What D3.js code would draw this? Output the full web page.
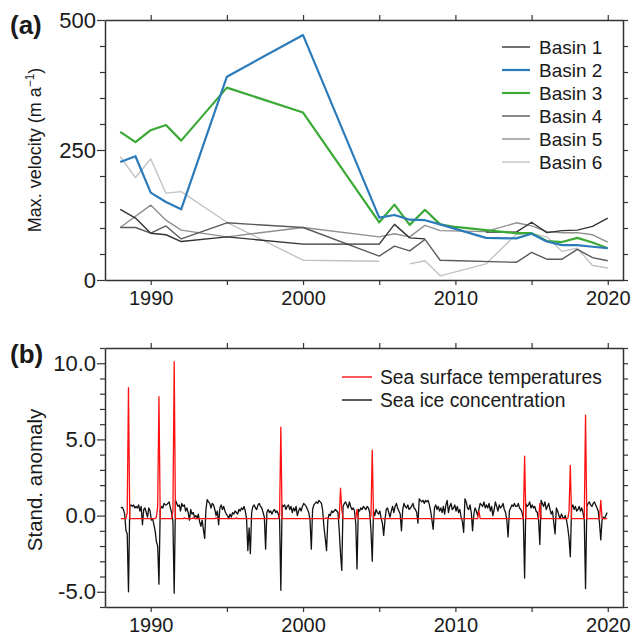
<!DOCTYPE html>
<html>
<head>
<meta charset="utf-8">
<script src="https://cdn.jsdelivr.net/npm/d3@7"></script>
<style>
  body { margin: 0; background: #fff; }
  svg text { font-family: "Liberation Sans", Arial, sans-serif; fill: #1a1a1a; }
</style>
</head>
<body>
<div id="chart"></div>
<script>
// ---- panel (a): max. velocity per basin (m a-1), null = gap
const basin1Years = [1988,1989,1990,1991,1992,1995,2000,2005,2006,2007,2008,2010,2012,2013,2014,2015,2016,2017,2018,2019,2020];
const basin1Vel   = [136, 119, 90,  87,  74,  83,  69,  69,  107, 81,  79,  null,92,  92,  92,  111, 91,  95,  96,  103, 119];
const basin2Years = [1988,1989,1990,1991,1992,1995,2000,2005,2006,2007,2008,2009,2012,2014,2015,2016,2017,2018,2019,2020];
const basin2Vel   = [227, 238, 168, 150, 136, 391, 471, 120, 125, 116, 115, 107, 81,  80,  89,  74,  67,  67,  64,  61];
const basin3Years = [1988,1989,1990,1991,1992,1995,2000,2005,2006,2007,2008,2009,2010,2012,2014,2015,2016,2017,2018,2019,2020];
const basin3Vel   = [285, 265, 288, 298, 268, 370, 322, 111, 145, 106, 135, 107, 102, 96,  90,  90,  75,  73,  81,  72,  61];
const basin4Years = [1988,1989,1990,1991,1992,1995,2000,2005,2006,2007,2008,2009,2014,2015,2016,2017,2018,2019,2020];
const basin4Vel   = [101, 101, 90,  104, 79,  110, 101, 46,  65,  56,  78,  38,  34,  53,  40,  40,  59,  43,  37];
const basin5Years = [1988,1990,1991,1992,1995,2000,2005,2006,2007,2008,2009,2012,2014,2015,2016,2017,2018,2019,2020];
const basin5Vel   = [101, 144, 115, 96,  83,  101, 83,  89,  83,  105, 95,  93,  110, 104, 93,  91,  91,  87,  73];
const basin6Years = [1988,1989,1990,1991,1992,1995,2000,2005,2006,2007,2008,2009,2012,2014,2015,2016,2017,2018,2019,2020];
const basin6Vel   = [237, 197, 233, 167, 170, 111, 38,  36,  null,31,  37,  8,   31,  88,  89,  83,  55,  61,  28,  23];
const basinNames  = ["Basin 1","Basin 2","Basin 3","Basin 4","Basin 5","Basin 6"];
const velTicks    = [0, 250, 500];

// ---- panel (b): monthly standardised anomalies, one row per year from 1988
const anomalyStartYear = 1988;
const sstAnomaly = [
  [-0.2,-0.2,-0.2,-0.2,-0.2,0.2,8.4,-0.2,-0.2,-0.2,-0.2,-0.2],
  [-0.2,-0.2,-0.2,-0.2,-0.2,-0.2,-0.2,-0.2,-0.2,-0.2,-0.2,-0.2],
  [-0.2,-0.2,-0.2,-0.2,-0.1,0.6,7.8,-0.2,-0.2,-0.2,-0.2,-0.2],
  [-0.2,-0.2,-0.2,-0.2,-0.2,0.3,10.1,-0.2,-0.2,-0.2,-0.2,-0.2],
  [-0.2,-0.2,-0.15,-0.2,-0.2,-0.2,-0.2,-0.2,-0.2,-0.15,-0.2,-0.2],
  [-0.2,-0.2,-0.2,-0.2,-0.2,-0.2,-0.2,-0.2,-0.2,-0.2,-0.2,-0.2],
  [-0.2,-0.2,-0.2,-0.15,-0.2,-0.2,-0.2,-0.2,-0.2,-0.2,-0.2,-0.2],
  [-0.2,-0.2,-0.2,-0.2,-0.2,-0.2,-0.2,-0.15,-0.2,-0.2,-0.2,-0.2],
  [-0.2,-0.2,-0.2,-0.2,-0.2,-0.2,-0.2,-0.2,-0.2,-0.2,-0.2,-0.2],
  [-0.2,-0.2,-0.2,-0.2,-0.2,-0.2,-0.2,-0.2,-0.2,-0.2,-0.2,-0.2],
  [-0.2,-0.2,-0.2,-0.2,-0.2,0.0,5.8,-0.2,-0.2,-0.2,-0.2,-0.2],
  [-0.2,-0.2,-0.2,-0.2,-0.2,-0.2,-0.2,-0.2,-0.2,-0.2,-0.2,-0.2],
  [-0.2,-0.2,-0.2,-0.2,-0.2,-0.2,-0.2,-0.2,-0.2,-0.2,-0.2,-0.2],
  [-0.2,-0.2,-0.2,-0.2,-0.2,-0.2,-0.15,-0.2,-0.2,-0.2,-0.2,-0.2],
  [-0.2,-0.2,-0.2,-0.2,-0.2,1.8,0.4,-0.2,-0.2,-0.2,-0.2,-0.2],
  [-0.2,-0.2,-0.2,-0.2,-0.2,-0.2,0.4,-0.2,-0.2,-0.2,-0.2,-0.2],
  [-0.2,-0.2,-0.2,-0.2,-0.2,0.0,4.3,-0.2,-0.2,-0.2,-0.2,-0.2],
  [-0.2,-0.2,-0.2,-0.2,-0.2,-0.2,-0.2,-0.2,-0.2,-0.2,-0.2,-0.2],
  [-0.2,-0.2,-0.2,-0.2,-0.2,-0.2,-0.2,-0.2,-0.2,-0.2,-0.2,-0.2],
  [-0.2,-0.2,-0.2,-0.2,-0.2,-0.2,-0.2,-0.2,-0.2,-0.2,-0.2,-0.2],
  [-0.2,-0.2,-0.2,-0.2,-0.2,-0.2,-0.2,-0.2,-0.2,-0.2,-0.2,-0.2],
  [-0.2,-0.2,-0.2,-0.2,-0.2,-0.2,-0.2,-0.2,-0.2,-0.2,-0.2,-0.2],
  [-0.2,-0.2,-0.2,-0.2,-0.2,-0.2,-0.2,-0.2,-0.2,-0.2,-0.2,-0.2],
  [-0.2,-0.2,-0.2,-0.2,-0.2,-0.2,0.3,-0.2,-0.2,-0.2,-0.2,-0.2],
  [-0.2,-0.2,-0.2,-0.2,-0.2,-0.2,-0.2,-0.2,-0.2,-0.2,-0.2,-0.2],
  [-0.2,-0.2,-0.2,-0.2,-0.2,-0.2,-0.2,-0.2,-0.2,-0.2,-0.2,-0.2],
  [-0.2,-0.2,-0.2,-0.2,-0.2,-0.2,3.9,-0.2,-0.2,-0.2,-0.2,-0.2],
  [-0.2,-0.2,-0.2,-0.2,-0.2,-0.2,0.8,-0.2,-0.2,-0.2,-0.2,-0.2],
  [-0.2,-0.2,-0.2,-0.2,-0.2,-0.2,-0.2,-0.2,-0.2,-0.2,-0.2,-0.2],
  [-0.2,-0.2,-0.2,-0.2,-0.2,0.3,3.3,-0.2,-0.2,-0.2,-0.2,-0.2],
  [-0.2,-0.2,-0.2,-0.2,-0.2,-0.2,6.6,-0.2,-0.2,-0.2,-0.2,-0.2],
  [-0.2,-0.2,-0.2,-0.2,-0.2,-0.2,1.0,-0.2,-0.2,-0.2,-0.2,-0.2]
];
const sicAnomaly = [
  [0.5,0.55,0.4,0.1,-1.0,-1.2,-5.0,0.6,0.7,0.6,0.7,0.5],
  [0.6,0.5,0.7,0.3,0.6,-0.6,0.4,0.5,0.2,-0.1,0.5,0.3],
  [-0.3,-0.2,-0.6,-1.0,-1.7,-2.0,-4.5,0.4,0.6,0.5,0.8,0.7],
  [0.7,0.8,0.9,0.5,0.2,-0.4,-5.1,1.0,0.8,0.6,0.7,0.3],
  [0.8,0.6,0.7,0.3,0.5,0.2,-0.3,0.4,0.1,0.2,-0.1,0.0],
  [-0.2,0.1,-0.4,-0.7,-0.3,-0.9,-1.5,0.4,1.05,0.9,0.8,0.5],
  [0.8,0.7,0.4,0.0,0.3,-0.6,0.5,0.7,0.4,0.6,0.3,0.1],
  [0.0,-0.2,0.1,-0.1,0.2,0.1,0.3,0.2,0.1,0.4,0.3,0.5],
  [0.4,0.6,0.3,-0.2,-2.3,-0.8,-2.5,0.2,0.6,0.7,0.5,0.4],
  [0.7,0.8,0.6,0.5,0.2,-0.1,-2.2,0.2,0.4,0.2,0.3,0.1],
  [0.3,0.4,0.2,0.3,0.1,-0.2,-4.9,0.7,0.6,0.7,0.4,0.6],
  [0.7,0.4,0.6,0.2,0.5,0.3,0.6,0.0,0.3,0.5,0.3,0.6],
  [0.8,0.7,0.6,0.4,0.2,-0.3,-2.2,0.4,0.7,0.8,0.9,0.8],
  [1.0,0.9,0.8,0.3,-0.8,-1.5,-2.3,-0.3,0.1,0.0,0.3,0.2],
  [0.3,0.4,0.3,0.2,-1.0,-2.5,-3.6,0.6,0.8,0.9,0.7,0.5],
  [0.9,0.6,0.4,0.5,0.3,-0.5,-3.5,0.4,0.3,0.5,0.4,0.6],
  [0.5,0.4,0.6,0.5,0.2,-1.0,-3.0,0.3,0.0,0.4,0.2,0.1],
  [0.3,-0.2,-0.5,-1.3,-0.3,0.4,0.5,0.2,-0.1,0.3,0.6,0.2],
  [0.6,0.8,0.5,0.3,0.1,-1.0,0.4,0.8,0.6,0.5,0.7,0.4],
  [0.5,0.6,0.8,0.5,0.4,0.2,-0.5,1.1,1.0,0.9,1.0,0.8],
  [1.0,0.9,1.0,0.7,0.3,-0.3,-0.9,0.5,0.7,0.4,0.6,0.3],
  [0.5,0.2,0.6,0.1,0.7,1.0,0.2,0.6,0.8,0.4,0.5,0.7],
  [0.3,0.6,0.2,0.4,-0.1,-0.4,-1.1,1.1,0.9,0.5,0.4,0.7],
  [0.2,-1.0,0.1,0.5,0.3,0.0,0.4,0.8,0.7,0.6,0.9,0.5],
  [0.7,0.5,0.8,0.3,0.6,0.0,0.4,0.9,0.6,0.3,0.7,0.5],
  [0.6,0.8,0.4,0.2,-0.3,-1.4,0.3,0.5,0.7,0.6,0.8,0.6],
  [0.6,0.8,0.5,0.4,0.2,-0.2,-4.1,0.8,0.6,0.7,0.9,0.5],
  [0.7,0.5,0.6,0.3,0.2,-0.3,-1.9,1.0,0.8,0.6,0.9,0.4],
  [0.6,0.8,0.4,0.1,0.3,-0.5,-1.2,0.5,0.3,0.0,-0.2,0.1],
  [-0.1,-0.2,0.0,-0.3,-0.8,-1.5,-2.7,0.5,0.7,0.4,0.6,0.3],
  [0.4,0.6,0.3,0.5,0.2,-0.3,-4.8,0.6,0.8,0.9,0.7,0.6],
  [0.8,0.9,0.7,0.5,0.3,-0.5,-1.6,-0.3,-0.1,-0.2,0.0,0.2]
];
const anomalyNames = ["Sea surface temperatures", "Sea ice concentration"];
const anomalyTicks = [-5, 0, 5, 10];
const yearTicks = [1990, 2000, 2010, 2020];

const width = 633, height = 635;
const left = 105, right = 623;
const frame = "#333333";

const svg = d3.select("#chart").append("svg")
  .attr("width", width).attr("height", height);

const x = d3.scaleLinear().domain([1987, 2021]).range([left, right]);
const ya = d3.scaleLinear().domain([0, 500]).range([280, 20]);
const yb = d3.scaleLinear().domain([-6, 11]).range([607, 348]);

function styleAxis(g, size) {
  g.selectAll("path.domain").attr("stroke", frame).attr("stroke-width", 1.5);
  g.selectAll(".tick line").attr("stroke", frame).attr("stroke-width", 1.2);
  g.selectAll(".tick text").style("font-size", size + "px").attr("fill", "#1a1a1a");
}

function drawFrame(y, minorStep, labelled, fmt) {
  const [lo, hi] = y.domain();
  const [bottom, top] = y.range();
  const xt = d3.range(1990, 2021, 5);
  const lab = d => yearTicks.includes(d) ? d : "";

  svg.append("g").attr("transform", `translate(0,${bottom})`)
    .call(d3.axisBottom(x).tickValues(xt).tickSizeInner(5).tickSizeOuter(0).tickPadding(6).tickFormat(lab))
    .call(styleAxis, 20);
  svg.append("g").attr("transform", `translate(0,${top})`)
    .call(d3.axisTop(x).tickValues(xt).tickSizeInner(5).tickSizeOuter(0).tickFormat(""))
    .call(styleAxis, 20);

  const yt = d3.range(Math.ceil(lo / minorStep) * minorStep, hi + 1e-9, minorStep);
  svg.append("g").attr("transform", `translate(${left},0)`)
    .call(d3.axisLeft(y).tickValues(yt).tickSizeInner(5).tickSizeOuter(0).tickPadding(4)
      .tickFormat(d => labelled.includes(d) ? fmt(d) : ""))
    .call(styleAxis, 22)
    .call(g => g.selectAll(".tick").filter(d => labelled.includes(d)).select("line").attr("x2", -8));
  svg.append("g").attr("transform", `translate(${right},0)`)
    .call(d3.axisRight(y).tickValues(yt).tickSizeInner(5).tickSizeOuter(0).tickFormat(""))
    .call(styleAxis, 20);
}

// ---------- panel (a)
drawFrame(ya, 50, velTicks, d => d);

const basinSeries = [
  { years: basin1Years, vals: basin1Vel, color: "#333333", w: 1.4 },
  { years: basin2Years, vals: basin2Vel, color: "#2b7bba", w: 2.2 },
  { years: basin3Years, vals: basin3Vel, color: "#3aa935", w: 2.2 },
  { years: basin4Years, vals: basin4Vel, color: "#5a5a5a", w: 1.4 },
  { years: basin5Years, vals: basin5Vel, color: "#8f8f8f", w: 1.4 },
  { years: basin6Years, vals: basin6Vel, color: "#c2c2c2", w: 1.4 }
];

const lineA = d3.line()
  .defined(d => d[1] !== null)
  .x(d => x(d[0])).y(d => ya(d[1]));

const drawOrder = [5, 4, 3, 0, 2, 1];
drawOrder.forEach(i => {
  const s = basinSeries[i];
  svg.append("path")
    .datum(s.years.map((yr, k) => [yr, s.vals[k]]))
    .attr("d", lineA)
    .attr("fill", "none")
    .attr("stroke", s.color)
    .attr("stroke-width", s.w)
    .attr("stroke-linejoin", "round");
});

const legA = svg.append("g").attr("transform", "translate(502,47)");
basinNames.forEach((name, i) => {
  const row = legA.append("g").attr("transform", `translate(0,${i * 23})`);
  row.append("line").attr("x1", 0).attr("x2", 28)
    .attr("stroke", basinSeries[i].color).attr("stroke-width", basinSeries[i].w);
  row.append("text").attr("x", 37).attr("dy", "0.35em")
    .style("font-size", "19px").text(name);
});

svg.append("text").attr("x", 10).attr("y", 34)
  .style("font-size", "26px").style("font-weight", "bold").text("(a)");

const titleA = svg.append("text")
  .attr("transform", "translate(41,150) rotate(-90)")
  .attr("text-anchor", "middle")
  .style("font-size", "18px");
titleA.append("tspan").text("Max. velocity (m a");
titleA.append("tspan").attr("dy", -7).style("font-size", "12px").text("\u22121");
titleA.append("tspan").attr("dy", 7).text(")");

// ---------- panel (b)
drawFrame(yb, 1, anomalyTicks, d => d3.format(".1f")(d).replace("\u2212", "-"));

function monthly(rows) {
  const out = [];
  rows.forEach((row, yi) => row.forEach((v, m) => out.push([anomalyStartYear + yi + (m + 0.5) / 12, v])));
  return out;
}

const lineB = d3.line().x(d => x(d[0])).y(d => yb(d[1]));

svg.append("path").datum(monthly(sicAnomaly)).attr("d", lineB)
  .attr("fill", "none").attr("stroke", "#111111").attr("stroke-width", 1.3).attr("stroke-linejoin", "round");
svg.append("path").datum(monthly(sstAnomaly)).attr("d", lineB)
  .attr("fill", "none").attr("stroke", "#ff1111").attr("stroke-width", 1.3).attr("stroke-linejoin", "round");

const legB = svg.append("g").attr("transform", "translate(342,377)");
[["#ff1111", anomalyNames[0]], ["#111111", anomalyNames[1]]].forEach((d, i) => {
  const row = legB.append("g").attr("transform", `translate(0,${i * 23})`);
  row.append("line").attr("x1", 0).attr("x2", 30).attr("stroke", d[0]).attr("stroke-width", 1.4);
  row.append("text").attr("x", 38).attr("dy", "0.35em").style("font-size", "19.3px").text(d[1]);
});

svg.append("text").attr("x", 10).attr("y", 363)
  .style("font-size", "26px").style("font-weight", "bold").text("(b)");

svg.append("text")
  .attr("transform", "translate(42,480) rotate(-90)")
  .attr("text-anchor", "middle")
  .style("font-size", "20.5px").text("Stand. anomaly");
</script>
</body>
</html>
